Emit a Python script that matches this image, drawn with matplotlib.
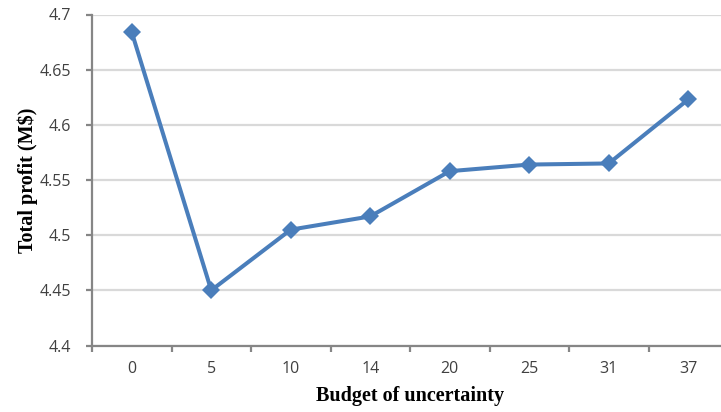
import matplotlib.pyplot as plt

# Data
budget = ['0', '5', '10', '14', '20', '25', '31', '37']
profit = [4.684, 4.450, 4.505, 4.517, 4.558, 4.564, 4.565, 4.623]
y_ticks = [4.4, 4.45, 4.5, 4.55, 4.6, 4.65, 4.7]
y_tick_labels = ['4.4', '4.45', '4.5', '4.55', '4.6', '4.65', '4.7']

fig = plt.figure(figsize=(7.21, 4.12), dpi=100)
W, H = 721, 412
left, right, top, bottom = 92, 728, 14.5, 345.5
ax = fig.add_axes([left / W, 1 - bottom / H, (right - left) / W, (bottom - top) / H])

x = list(range(len(budget)))
ax.plot(x, profit, color='#4a7ebb', linewidth=2.9, marker='D', markersize=9,
        markeredgewidth=0, clip_on=False, zorder=3)

ax.set_xlim(-0.5, len(budget) - 0.5)
ax.set_ylim(4.4, 4.7)
ax.set_yticks(y_ticks)
ax.set_yticklabels(y_tick_labels)
ax.set_xticks(x)
ax.set_xticklabels(budget)
ax.set_xticks([i - 0.5 for i in range(len(budget) + 1)], minor=True)

ax.grid(axis='y', color='#d9d9d9', linewidth=1.6, zorder=0)
ax.set_axisbelow(True)

for s in ['top', 'right']:
    ax.spines[s].set_visible(False)
for s in ['left', 'bottom']:
    ax.spines[s].set_color('#868686')
    ax.spines[s].set_linewidth(1.6)

ax.tick_params(axis='y', length=4, width=1.6, color='#868686', pad=11,
               labelsize=11.5, labelcolor='#404040')
ax.tick_params(axis='x', which='major', length=0, pad=11,
               labelsize=11.5, labelcolor='#404040')
ax.tick_params(axis='x', which='minor', length=4.5, width=1.6, color='#868686')
for lab in ax.get_xticklabels() + ax.get_yticklabels():
    lab.set_fontfamily('Open Sans')

ax.set_xlabel('Budget of uncertainty', fontfamily='Liberation Serif',
              fontweight='bold', fontsize=14.5, labelpad=7)
ax.set_ylabel('Total profit (M$)', fontfamily='Liberation Serif',
              fontweight='bold', fontsize=14.5, labelpad=1)

fig.savefig('out.png', dpi=100)
